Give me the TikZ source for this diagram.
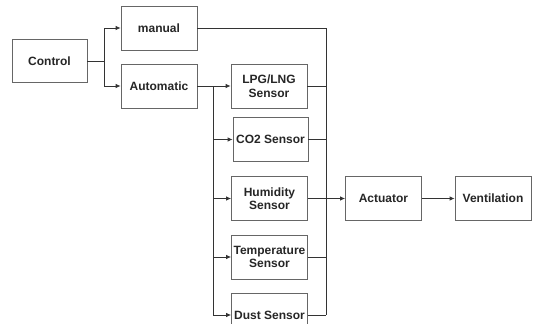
\documentclass[tikz,border=0pt]{standalone}
\usepackage{fontspec}
\setmainfont{Liberation Sans}
\usetikzlibrary{arrows.meta}
\begin{document}
\begin{tikzpicture}[x=1pt,y=-1pt,
  box/.style={draw=black!60, line width=0.8pt, minimum width=76pt, minimum height=44pt,
    inner sep=0pt, align=center, font=\fontsize{12}{13.5}\selectfont\bfseries, text=black!85},
  conn/.style={draw=black!80, line width=0.8pt},
  arr/.style={conn, -{Latex[length=5pt,width=4.5pt]}}]
\clip (0,0) rectangle (533,324);
\fill[white] (0,0) rectangle (533,324);
\node[box, minimum width=75pt, minimum height=43pt] (control) at (49.5,61) {Control};
\node[box] (manual) at (159,28) {manual};
\node[box] (auto) at (159,86) {Automatic};
\node[box] (lpg) at (269,86) {LPG/LNG\\Sensor};
\node[box, minimum width=75pt] (co2) at (270.5,139.5) {CO2 Sensor};
\node[box] (hum) at (269.5,198.5) {Humidity\\Sensor};
\node[box] (temp) at (269.5,257) {Temperature\\Sensor};
\node[box] (dust) at (269.5,315) {\raisebox{-1pt}{Dust Sensor}};
\node[box] (act) at (383.5,198.5) {Actuator};
\node[box] (vent) at (493,198.5) {Ventilation};
% control split
\coordinate (s1) at (104,61);
\coordinate (s1a) at (104,28);
\coordinate (s1b) at (104,86);
\draw[conn] (control.east) -- (s1);
\draw[conn] (s1a) -- (s1b);
\draw[arr] (s1a) -- (manual.west);
\draw[arr] (s1b) -- (auto.west);
% automatic bus
\coordinate (b1) at (213,86);
\coordinate (b2) at (213,139.5);
\coordinate (b3) at (213,198.5);
\coordinate (b4) at (213,257);
\coordinate (b5) at (213,315);
\draw[arr] (auto.east) -- (lpg.west);
\draw[conn] (b1) -- (b5);
\draw[arr] (b2) -- (co2.west);
\draw[arr] (b3) -- (hum.west);
\draw[arr] (b4) -- (temp.west);
\draw[arr] (b5) -- (dust.west);
% right bus
\coordinate (r0) at (326,28);
\coordinate (r1) at (326,86);
\coordinate (r2) at (326,139.5);
\coordinate (r3) at (326,198.5);
\coordinate (r4) at (326,257);
\coordinate (r5) at (326,315);
\draw[conn] (manual.east) -- (r0) -- (r5);
\draw[conn] (lpg.east) -- (r1);
\draw[conn] (co2.east) -- (r2);
\draw[conn] (temp.east) -- (r4);
\draw[conn] (dust.east) -- (r5);
\draw[arr] (hum.east) -- (act.west);
\draw[arr] (act.east) -- (vent.west);
\end{tikzpicture}
\end{document}
